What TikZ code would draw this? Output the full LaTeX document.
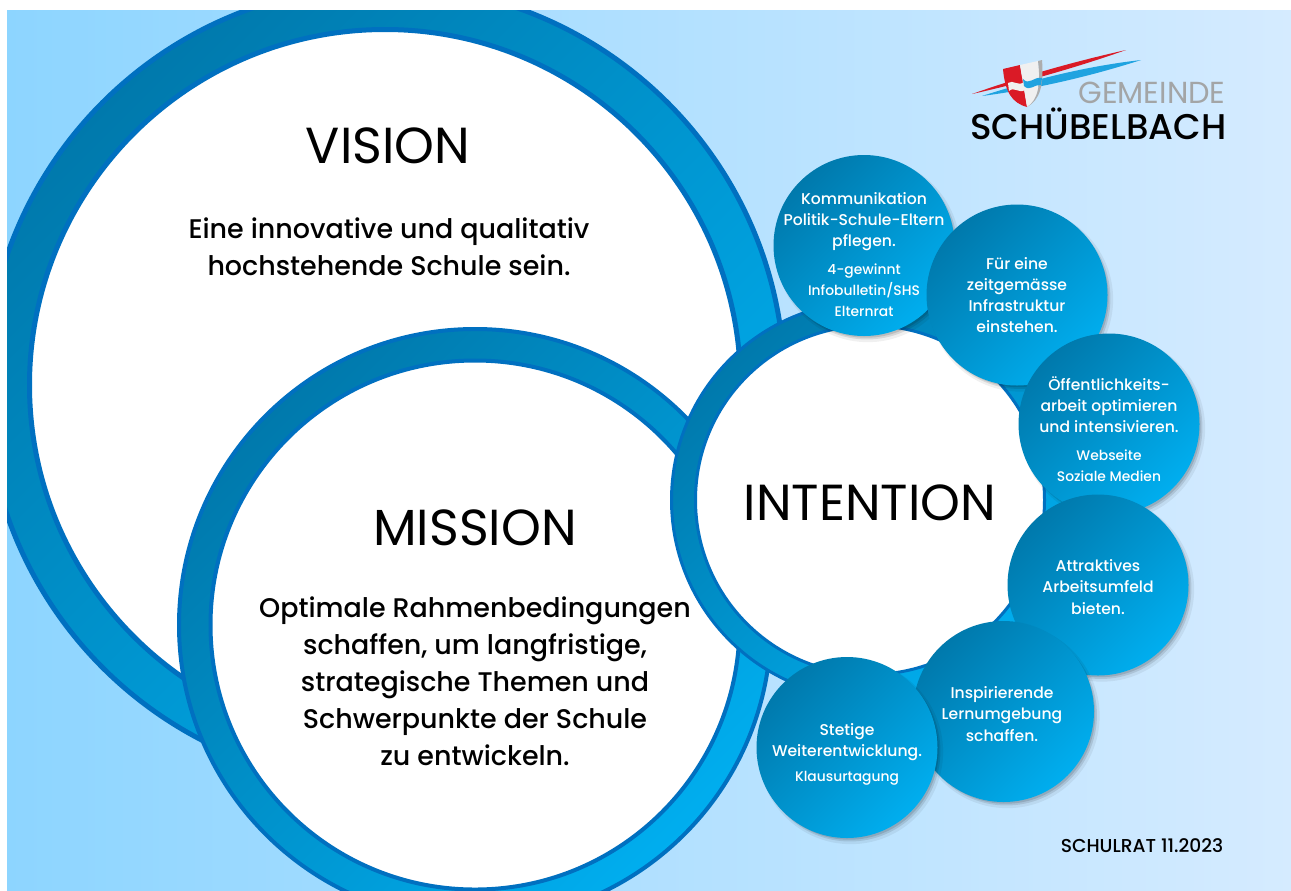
\documentclass[tikz,border=0pt]{standalone}
\usepackage{fontspec}
\setmainfont{Poppins Medium}
\newfontfamily\regularfont{Poppins}
\usetikzlibrary{shadows}

\definecolor{bgleft}{HTML}{8DD5FF}
\definecolor{bgright}{HTML}{D5EBFF}
\definecolor{ringdark}{HTML}{0079AC}
\definecolor{ringbright}{HTML}{00AEEF}
\definecolor{ringline}{HTML}{0070C0}
\definecolor{logored}{HTML}{DA1A26}
\definecolor{logoblue}{HTML}{1FA3E0}
\definecolor{logogrey}{HTML}{A3A5A6}

\newcommand{\subline}[1]{{\fontsize{10.4}{12}\selectfont #1}}

\tikzset{
  ring/.style={circle,draw=ringline,line width=3pt,inner sep=0pt,outer sep=0pt,
    top color=ringdark,bottom color=ringbright,shading angle=45},
  hole/.style={circle,draw=ringline,line width=3pt,fill=white,inner sep=0pt,outer sep=0pt},
  bubble/.style={circle,inner sep=0pt,outer sep=0pt,minimum size=135.75pt,
    general shadow={fill=black,opacity=.06,shadow xshift=2.8pt,shadow yshift=-3.2pt,shadow scale=1.02},
    general shadow={fill=black,opacity=.10,shadow xshift=2.2pt,shadow yshift=-2.6pt},
    general shadow={fill=black,opacity=.12,shadow xshift=1.6pt,shadow yshift=-2pt,shadow scale=.99},
    top color=ringdark,bottom color=ringbright,shading angle=45},
  bubbletext/.style={text=white,align=center,font=\fontsize{11.7}{15.8}\selectfont,inner sep=0pt},
  bigtitle/.style={font=\regularfont\fontsize{38}{42}\selectfont,inner sep=0pt},
  bigtext/.style={align=center,font=\fontsize{20.2}{27.8}\selectfont,inner sep=0pt}
}

\begin{document}
\begin{tikzpicture}[x=0.75pt,y=-0.75pt]
\useasboundingbox (0,0) rectangle (1291,890);

\begin{scope}
\clip (7,10) rectangle (1291,890);
\fill[left color=bgleft,right color=bgright] (7,10) rectangle (1291,890);

\node[ring,line width=3.75pt,minimum size=599.25pt] (visionring) at (385,385) {};
\node[hole,line width=3.75pt,minimum size=533.25pt] (visionhole) at (385,385) {};

\node[ring,minimum size=444pt] (missionring) at (475,625) {};
\node[hole,minimum size=396.75pt] (missionhole) at (475,625) {};
\end{scope}

\node[ring,line width=2.25pt,minimum size=297.75pt] (intentionring) at (870,500) {};
\node[hole,line width=2.25pt,minimum size=261.75pt] (intentionhole) at (870,500) {};

\node[bubble] (kommunikation) at (864,245.5) {};
\node[bubble] (infrastruktur) at (1017,295) {};
\node[bubble] (oeffentlichkeit) at (1109,424) {};
\node[bubble] (arbeitsumfeld) at (1098,585) {};
\node[bubble] (lernumgebung) at (1003.5,711.5) {};
\node[bubble] (weiterentwicklung) at (847,747.5) {};

\node[bigtitle] (visiontitle) at (388,146) {VISION};
\node[bigtext] (visiontext) at (389,246.5) {Eine innovative und qualitativ\\hochstehende Schule sein.};

\node[bigtitle] (missiontitle) at (475,528) {MISSION};
\node[bigtext] (missiontext) at (475,681) {Optimale Rahmenbedingungen\\schaffen, um langfristige,\\strategische Themen und\\Schwerpunkte der Schule\\zu entwickeln.};

\node[bigtitle] (intentiontitle) at (870,503) {INTENTION};

\node[bubbletext] (kommunikationtext) at (864,254.5) {Kommunikation\\Politik-Schule-Eltern\\pflegen.\\[5pt]\subline{4-gewinnt}\\\subline{Infobulletin/SHS}\\\subline{Elternrat}};
\node[bubbletext] (infrastrukturtext) at (1017,295) {Für eine\\zeitgemässe\\Infrastruktur\\einstehen.};
\node[bubbletext] (oeffentlichkeittext) at (1109,429) {Öffentlichkeits-\\arbeit optimieren\\und intensivieren.\\[5pt]\subline{Webseite}\\\subline{Soziale Medien}};
\node[bubbletext] (arbeitsumfeldtext) at (1098,587) {Attraktives\\Arbeitsumfeld\\bieten.};
\node[bubbletext] (lernumgebungtext) at (1002,714) {Inspirierende\\Lernumgebung\\schaffen.};
\node[bubbletext] (weiterentwicklungtext) at (847,754) {Stetige\\Weiterentwicklung.\\[3pt]\subline{Klausurtagung}};

\node[inner sep=0pt,font=\fontsize{14}{16}\selectfont] (schulrat) at (1142,846) {SCHULRAT 11.2023};

% logo
\fill[logored] (972,94) .. controls (1023,76) and (1075,61.4) .. (1126,50) .. controls (1075,68) and (1023,82.6) .. (972,94) -- cycle;
\fill[logoblue] (982,96) .. controls (1035,79) and (1088,66) .. (1141,60) .. controls (1088,77) and (1035,89) .. (982,96) -- cycle;
\fill[logored] (1003,69) -- (1020,65) -- (1027,107) .. controls (1012,103) and (1005,92) .. (1003,69) -- cycle;
\fill[white!94!black] (1020,65) -- (1038,61) .. controls (1041,85) and (1038,100) .. (1027,107) -- cycle;
\fill[white!68!black] (1038,61) -- (1042,60) .. controls (1044,85) and (1040,100) .. (1027,107) .. controls (1038,100) and (1041,85) .. (1038,61) -- cycle;
\fill[white!94!black] (1008,83) .. controls (1013,79) and (1018,87) .. (1024,82) -- (1025,90) .. controls (1019,94) and (1014,86) .. (1009,91) -- cycle;
\fill[logoblue] (1023,79) .. controls (1029,86) and (1034,76) .. (1042,78) -- (1041,85) .. controls (1034,84) and (1030,92) .. (1024,86) -- cycle;

\node[inner sep=0pt,text=logogrey,font=\regularfont\fontsize{22.8}{25}\selectfont] (gemeinde) at (1152,93) {GEMEINDE};
\node[inner sep=0pt,font=\fontsize{26.8}{30}\selectfont] (schuebelbach) at (1098.5,124) {SCHÜBELBACH};

\end{tikzpicture}
\end{document}
